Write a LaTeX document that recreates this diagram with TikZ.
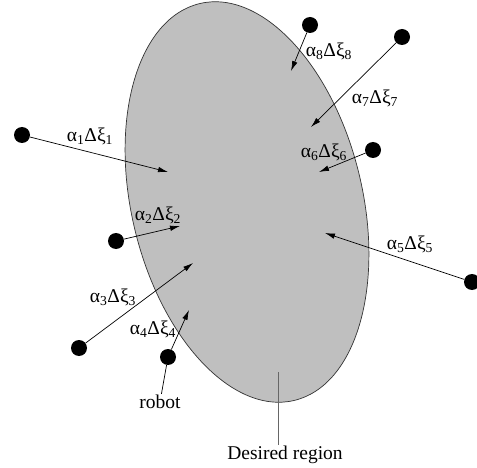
\documentclass[tikz,border=0pt]{standalone}
\usepackage{fontspec}
\setmainfont{Liberation Serif}
\usetikzlibrary{arrows.meta,shapes.geometric}

\begin{document}
\begin{tikzpicture}[
  x=1pt, y=-1pt,
  region/.style={ellipse, draw=black!80, fill=black!25, line width=0.7pt, minimum width=231pt, minimum height=408pt, inner sep=0pt},
  robot/.style={circle, fill=black, minimum size=16pt, inner sep=0pt},
  lbl/.style={font=\fontsize{19.5}{23}\selectfont, inner sep=1pt},
  arr/.style={-{Latex[length=10pt,width=5.5pt]}, line width=0.7pt},
  pin/.style={line width=0.7pt}
]
\useasboundingbox (0,0) rectangle (477,468);

\node[region, rotate=13.4] (area) at (247,202) {};

% robots
\node[robot] (r1) at (22,135) {};
\node[robot] (r2) at (116,241) {};
\node[robot] (r3) at (79,348) {};
\node[robot] (r4) at (168,357) {};
\node[robot] (r5) at (472,282) {};
\node[robot] (r6) at (373,150) {};
\node[robot] (r7) at (402,37) {};
\node[robot] (r8) at (310,25) {};

% arrow targets
\coordinate (c1) at (168,172);
\coordinate (c2) at (180,226);
\coordinate (c3) at (193,263);
\coordinate (c4) at (189,310);
\coordinate (c5) at (325,233);
\coordinate (c6) at (319,172);
\coordinate (c7) at (311,127);
\coordinate (c8) at (291,71);

% labels
\node[lbl] (l1) at (90,136) {α\textsubscript{1}Δξ\textsubscript{1}};
\node[lbl] (l2) at (158,215) {α\textsubscript{2}Δξ\textsubscript{2}};
\node[lbl] (l3) at (113,297) {α\textsubscript{3}Δξ\textsubscript{3}};
\node[lbl] (l4) at (153,329) {α\textsubscript{4}Δξ\textsubscript{4}};
\node[lbl] (l5) at (410,244) {α\textsubscript{5}Δξ\textsubscript{5}};
\node[lbl] (l6) at (324,152) {α\textsubscript{6}Δξ\textsubscript{6}};
\node[lbl] (l7) at (375,98) {α\textsubscript{7}Δξ\textsubscript{7}};
\node[lbl] (l8) at (329,51) {α\textsubscript{8}Δξ\textsubscript{8}};

\node[lbl] (rob) at (160,402) {robot};
\node[lbl] (des) at (285,455) {Desired region};
\coordinate (d1) at (278,372);

\foreach \i in {1,...,8}
  \draw[arr] (r\i) -- (c\i);

\draw[pin] (rob) -- (r4);
\draw[pin, black!60, line width=1pt] (d1) -- (d1 |- des.north);

\end{tikzpicture}
\end{document}
